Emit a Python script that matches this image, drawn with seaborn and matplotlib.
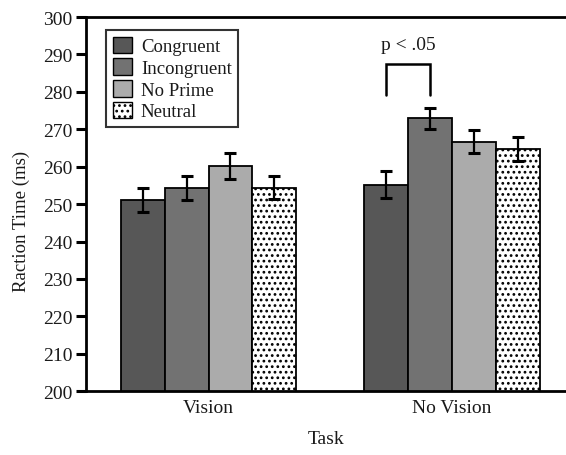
import matplotlib
matplotlib.use("Agg")
import matplotlib.pyplot as plt
import seaborn as sns
import pandas as pd
import numpy as np
from matplotlib.patches import Patch

# Reaction times per task and prime condition
tasks = ["Vision", "No Vision"]
conditions = ["Congruent", "Incongruent", "No Prime", "Neutral"]
vision_means = [251.1, 254.3, 260.2, 254.4]
novision_means = [255.2, 272.9, 266.7, 264.7]
vision_err = [3.3, 3.1, 3.4, 3.0]
novision_err = [3.6, 2.9, 3.0, 3.3]
yticks = list(range(200, 301, 10))

colors = ["#575757", "#727272", "#ababab", "#ffffff"]
dots = "..."

sns.set_theme(style="white")
plt.rcParams["font.family"] = ["Liberation Serif", "DejaVu Serif"]
plt.rcParams["hatch.color"] = "#505050"
plt.rcParams["hatch.linewidth"] = 1.2

df = pd.DataFrame({
    "Task": np.repeat(tasks, len(conditions)),
    "Condition": conditions * len(tasks),
    "RT": vision_means + novision_means,
    "Err": vision_err + novision_err,
})

fig = plt.figure(figsize=(5.66, 4.56), dpi=100)
ax = fig.add_axes([0.152, 0.140, 0.848, 0.8205])

sns.barplot(data=df, x="Task", y="RT", hue="Condition", order=tasks,
            hue_order=conditions, palette=colors, width=0.72,
            errorbar=None, saturation=1, edgecolor="black", linewidth=1.3,
            legend=False, ax=ax)

# Error bars and hatching per condition
for cond, cont in zip(conditions, ax.containers):
    sub = df[df["Condition"] == cond].set_index("Task").loc[tasks]
    xs = [b.get_x() + b.get_width() / 2 for b in cont]
    ax.errorbar(xs, sub["RT"].values, yerr=sub["Err"].values, fmt="none",
                ecolor="black", elinewidth=1.6, capsize=4, capthick=2.2,
                zorder=5)
    if cond == "Neutral":
        for b in cont:
            b.set_hatch(dots)

ax.set_ylim(200, 300)
ax.set_yticks(yticks)
ax.set_xlim(-0.503, 1.468)

for s in ["left", "bottom", "top"]:
    ax.spines[s].set_visible(True)
    ax.spines[s].set_color("black")
    ax.spines[s].set_linewidth(2.0)
ax.spines["right"].set_visible(False)

ax.tick_params(axis="y", direction="out", length=7, width=2.2, color="black",
               labelsize=14, pad=3, left=True)
ax.tick_params(axis="x", length=0, labelsize=14, pad=6)
for t in ax.get_yticklabels() + ax.get_xticklabels():
    t.set_color("#1a1a1a")

ax.set_ylabel("Raction Time (ms)", fontsize=13.5, color="#1a1a1a")
ax.yaxis.set_label_coords(-0.117, 0.455)
ax.set_xlabel("Task", fontsize=14, color="#1a1a1a", labelpad=10)

# Significance bracket between Congruent and Incongruent in No Vision
c0 = ax.containers[0][1]
c1 = ax.containers[1][1]
x0 = c0.get_x() + c0.get_width() / 2
x1 = c1.get_x() + c1.get_width() / 2
ax.plot([x0, x0, x1, x1], [279.2, 287.4, 287.4, 279.2], color="black",
        lw=1.8, solid_joinstyle="miter", clip_on=False)
ax.text((x0 + x1) / 2, 290.5, "p < .05", ha="center", va="bottom",
        fontsize=14, color="#1a1a1a")

# Legend
handles = [Patch(facecolor=c, edgecolor="black", linewidth=1.0,
                 hatch=(dots if n == "Neutral" else None))
           for c, n in zip(colors, conditions)]
leg = ax.legend(handles, conditions, loc="upper left",
                bbox_to_anchor=(0.042, 0.965), fontsize=13.5, frameon=True,
                fancybox=False, edgecolor="black", handlelength=1.0,
                handleheight=1.0, handletextpad=0.5, labelspacing=0.15,
                borderpad=0.35, borderaxespad=0)
leg.get_frame().set_linewidth(1.5)
for t in leg.get_texts():
    t.set_color("#1a1a1a")

fig.savefig("out.png", dpi=100)
